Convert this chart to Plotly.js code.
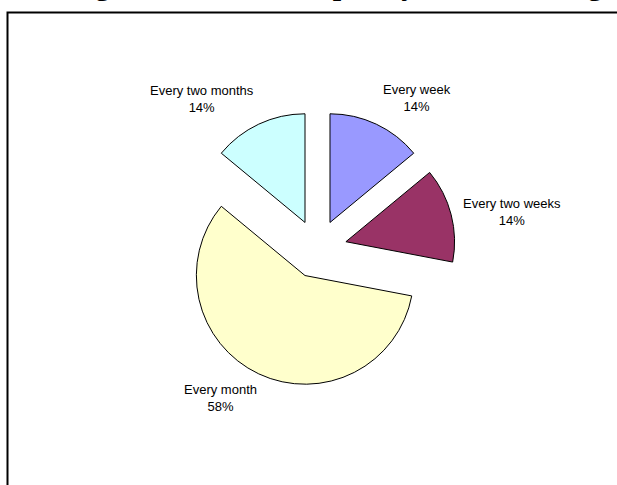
<!DOCTYPE html>
<html>
<head>
<meta charset="utf-8">
<script src="https://cdn.plot.ly/plotly-3.0.1.min.js"></script>
<style>
  html, body { margin: 0; padding: 0; background: #ffffff; }
  #chart { width: 617px; height: 485px; }
</style>
</head>
<body>
<div id="chart"></div>
<script>
// ---- data ----
const categories = ['Every week', 'Every two weeks', 'Every month', 'Every two months'];
const shares = [14, 14, 58, 14];
const sliceColors = ['#9999FF', '#993366', '#FFFFCC', '#CCFFFF'];
const titleText = 'Training Attendance: Frequency of Monitoring';

// ---- layout constants (pixel positions in a 617x485 page) ----
const W = 617, H = 485;
const pieCenter = [317.5, 249];
const pieHalf = 138;           // half-size of the pie domain (radius * (1 + pull))
const pullFrac = 0.27;
const labelCenters = [[417, 98], [512, 212], [220, 398], [202, 99]];

const px = x => x / W;
const py = y => 1 - y / H;

const trace = {
  type: 'pie',
  labels: categories,
  values: shares,
  sort: false,
  direction: 'clockwise',
  rotation: 0,
  pull: categories.map(() => pullFrac),
  marker: { colors: sliceColors, line: { color: '#000000', width: 1 } },
  textinfo: 'none',
  hoverinfo: 'label+percent',
  showlegend: false,
  domain: {
    x: [px(pieCenter[0] - pieHalf), px(pieCenter[0] + pieHalf)],
    y: [py(pieCenter[1] + pieHalf), py(pieCenter[1] - pieHalf)]
  }
};

const total = shares.reduce((a, b) => a + b, 0);
const annotations = categories.map((c, i) => ({
  xref: 'paper', yref: 'paper',
  x: px(labelCenters[i][0]), y: py(labelCenters[i][1]),
  xanchor: 'center', yanchor: 'middle',
  text: c + '<br>' + Math.round(shares[i] / total * 100) + '%',
  showarrow: false,
  align: 'center',
  font: { family: 'Liberation Sans, Arial, sans-serif', size: 13, color: '#000000' }
}));

annotations.push({
  xref: 'paper', yref: 'paper',
  x: px(-3), y: 1, xanchor: 'left', yanchor: 'bottom',
  yshift: -3,
  text: '<b>' + titleText + '</b>',
  showarrow: false,
  font: { family: 'Liberation Serif, Times New Roman, serif', size: 30, color: '#000000' }
});

const layout = {
  width: W, height: H,
  margin: { l: 0, r: 0, t: 0, b: 0, pad: 0 },
  paper_bgcolor: '#ffffff',
  plot_bgcolor: '#ffffff',
  showlegend: false,
  annotations: annotations,
  shapes: [{
    type: 'rect', xref: 'paper', yref: 'paper',
    x0: px(7.5), x1: px(640), y0: py(520), y1: py(12.5),
    line: { color: '#000000', width: 2 },
    fillcolor: 'rgba(0,0,0,0)',
    layer: 'above'
  }]
};

Plotly.newPlot('chart', [trace], layout, { staticPlot: true, displayModeBar: false });
</script>
</body>
</html>
